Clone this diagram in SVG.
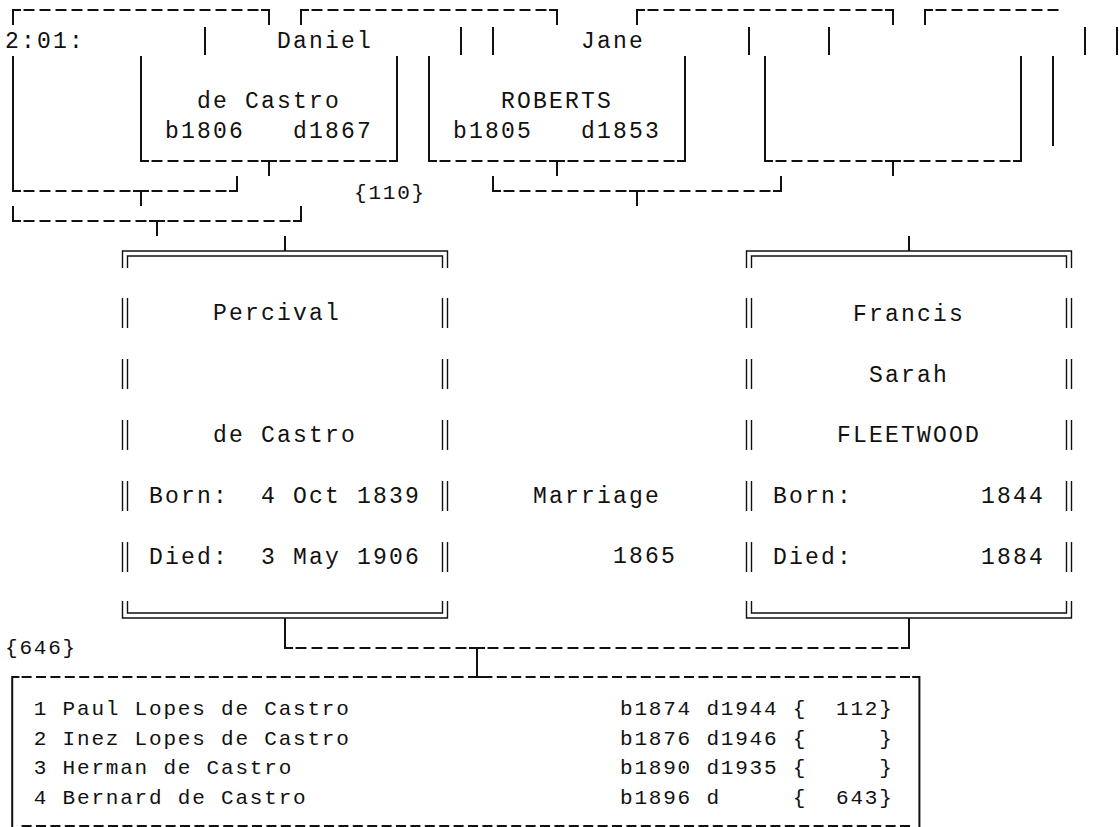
<svg xmlns="http://www.w3.org/2000/svg" width="1119" height="827" viewBox="0 0 1119 827" xml:space="preserve">
<style>
  .t { font-family: "Liberation Mono", "Courier New", monospace; font-size: 23px; letter-spacing: 2.2px; fill: #111; white-space: pre; }
  .l { font-family: "Liberation Mono", "Courier New", monospace; font-size: 21px; letter-spacing: 1.8px; fill: #111; white-space: pre; }
  .s { fill: none; stroke: #111; stroke-width: 2; }
  .d { fill: none; stroke: #111; stroke-width: 2; stroke-dasharray: 11 5; }
  .dl { fill: none; stroke: #111; stroke-width: 2; stroke-dasharray: 10 4.4; }
  .db { fill: none; stroke: #111; stroke-width: 1.4; }
</style>
<rect width="1119" height="827" fill="#fff"/>

<g id="connectors">
  <!-- row 0 top borders -->
  <path class="s" d="M13,25 V10 H21 M261,10 H269 V25"/>
  <path class="d" d="M23.5,10 H258.5"/>
  <path class="s" d="M301,25 V10 H309 M549,10 H557 V25"/>
  <path class="d" d="M311.5,10 H546.5"/>
  <path class="s" d="M637,25 V10 H645 M885,10 H893 V25"/>
  <path class="d" d="M647.5,10 H882.5"/>
  <path class="s" d="M925,25 V10 H933"/>
  <path class="d" d="M935.5,10 H1058.5"/>
  <!-- row 1 vertical stubs -->
  <path class="s" d="M205,27 V55 M461,27 V55 M493,27 V55 M749,27 V55 M829,27 V55 M1085,27 V55 M1117,27 V55"/>
  <!-- long verticals -->
  <path class="s" d="M13,56 V191 H21"/>
  <path class="s" d="M141,56 V161 H149"/>
  <path class="s" d="M397,56 V161 H389"/>
  <path class="s" d="M429,56 V161 H437"/>
  <path class="s" d="M685,56 V161 H677"/>
  <path class="s" d="M765,56 V161 H773"/>
  <path class="s" d="M1021,56 V161 H1013"/>
  <path class="s" d="M1053,56 V146"/>
  <!-- row 5 bottoms -->
  <path class="d" d="M151.5,161 H386.5 M439.5,161 H674.5 M775.5,161 H1010.5"/>
  <path class="s" d="M261,161 H277 M269,161 V176 M549,161 H565 M557,161 V176 M885,161 H901 M893,161 V176"/>
  <!-- row 6 -->
  <path class="d" d="M23.5,191 H226.5 M503.5,191 H770.5"/>
  <path class="s" d="M229,191 H237 V176 M133,191 H149 M141,191 V206"/>
  <path class="s" d="M493,176 V191 H501 M773,191 H781 V176 M629,191 H645 M637,191 V206"/>
  <!-- row 7 -->
  <path class="s" d="M13,206 V221 H21 M293,221 H301 V206 M149,221 H165 M157,221 V236"/>
  <path class="d" d="M23.5,221 H290.5"/>
  <!-- stems into couple boxes -->
  <path class="s" d="M285,236 V251 M909,236 V251"/>
  <!-- marriage connector -->
  <path class="s" d="M285,618 V648 H293 M901,648 H909 V618"/>
  <path class="d" d="M295.5,648 H898.5"/>
  <path class="s" d="M469,648 H485 M477,648 V677 M469,677 H485"/>
</g>

<g id="node-daniel">
  <text class="t" x="5" y="48">2:01:</text>
  <text class="t" x="277" y="48">Daniel</text>
  <text class="t" x="197" y="108">de Castro</text>
  <text class="t" x="165" y="138">b1806   d1867</text>
</g>

<g id="node-jane">
  <text class="t" x="581" y="48">Jane</text>
  <text class="t" x="501" y="108">ROBERTS</text>
  <text class="t" x="453" y="138">b1805   d1853</text>
  <text class="l" x="354" y="199">{110}</text>
</g>

<g id="node-percival">
  <path class="db" d="M122.5,268 V251 H447.5 V268 M127.5,268 V256 H442.5 V268"/>
  <path class="db" d="M122.5,298 V328 M127.5,298 V328 M442.5,298 V328 M447.5,298 V328
    M122.5,359 V389 M127.5,359 V389 M442.5,359 V389 M447.5,359 V389
    M122.5,420 V450 M127.5,420 V450 M442.5,420 V450 M447.5,420 V450
    M122.5,481 V511 M127.5,481 V511 M442.5,481 V511 M447.5,481 V511
    M122.5,542 V572 M127.5,542 V572 M442.5,542 V572 M447.5,542 V572"/>
  <path class="db" d="M122.5,601 V618 H447.5 V601 M127.5,601 V613 H442.5 V601"/>
  <text class="t" x="213" y="320">Percival</text>
  <text class="t" x="213" y="442">de Castro</text>
  <text class="t" x="149" y="503">Born:  4 Oct 1839</text>
  <text class="t" x="149" y="564">Died:  3 May 1906</text>
</g>

<g id="node-marriage">
  <text class="t" x="533" y="503">Marriage</text>
  <text class="t" x="613" y="563">1865</text>
</g>

<g id="node-francis">
  <path class="db" d="M746.5,268 V251 H1071.5 V268 M751.5,268 V256 H1066.5 V268"/>
  <path class="db" d="M746.5,298 V328 M751.5,298 V328 M1066.5,298 V328 M1071.5,298 V328
    M746.5,359 V389 M751.5,359 V389 M1066.5,359 V389 M1071.5,359 V389
    M746.5,420 V450 M751.5,420 V450 M1066.5,420 V450 M1071.5,420 V450
    M746.5,481 V511 M751.5,481 V511 M1066.5,481 V511 M1071.5,481 V511
    M746.5,542 V572 M751.5,542 V572 M1066.5,542 V572 M1071.5,542 V572"/>
  <path class="db" d="M746.5,601 V618 H1071.5 V601 M751.5,601 V613 H1066.5 V601"/>
  <text class="t" x="853" y="321">Francis</text>
  <text class="t" x="869" y="382">Sarah</text>
  <text class="t" x="837" y="442">FLEETWOOD</text>
  <text class="t" x="773" y="503">Born:        1844</text>
  <text class="t" x="773" y="564">Died:        1884</text>
</g>

<g id="node-children">
  <text class="l" x="5" y="654">{646}</text>
  <path class="s" d="M12.2,827 V677 H19.4 M912.2,677 H919.4 V827"/>
  <path class="dl" d="M21.6,677 H910 M21.6,826 H910"/>
  <path class="s" d="M469,677 H485"/>
  <text class="l" x="33.8" y="715">1 Paul Lopes de Castro</text>
  <text class="l" x="620" y="715">b1874 d1944 {  112}</text>
  <text class="l" x="33.8" y="744.5">2 Inez Lopes de Castro</text>
  <text class="l" x="620" y="744.5">b1876 d1946 {     }</text>
  <text class="l" x="33.8" y="774">3 Herman de Castro</text>
  <text class="l" x="620" y="774">b1890 d1935 {     }</text>
  <text class="l" x="33.8" y="803.5">4 Bernard de Castro</text>
  <text class="l" x="620" y="803.5">b1896 d     {  643}</text>
</g>
</svg>
